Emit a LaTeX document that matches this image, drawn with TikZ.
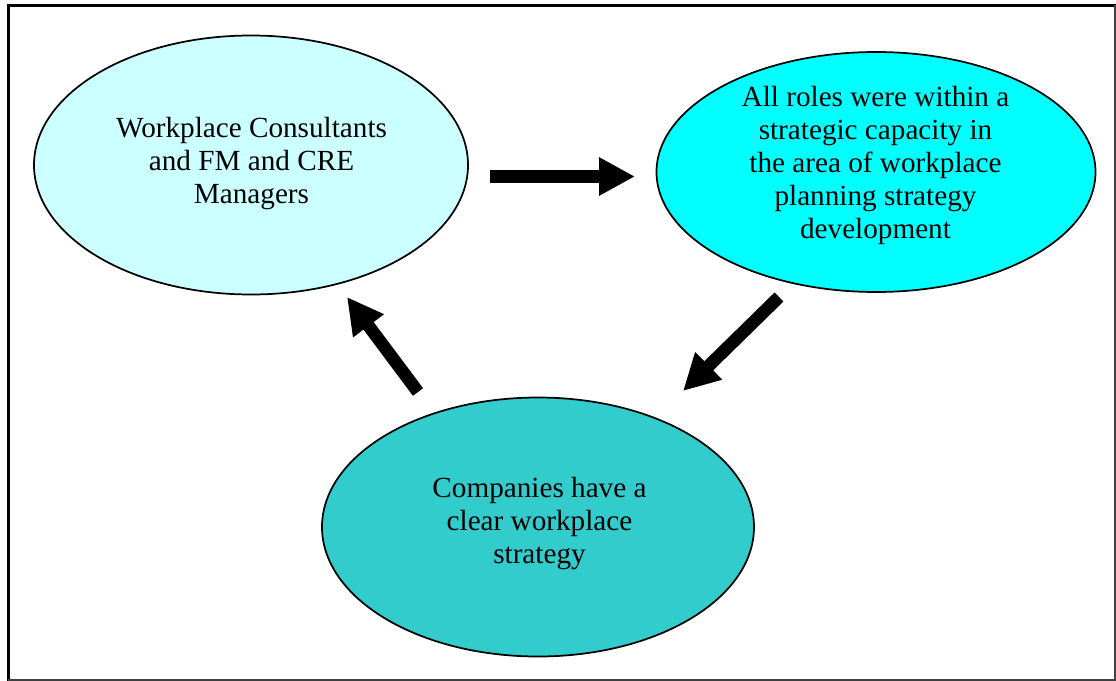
\documentclass[tikz,border=0pt]{standalone}
\usepackage{fontspec}
\setmainfont{Liberation Serif}
\usetikzlibrary{arrows.meta,shapes.geometric}
\definecolor{paleCyan}{HTML}{CCFFFF}
\definecolor{brightCyan}{HTML}{00FFFF}
\definecolor{tealFill}{HTML}{33CCCC}
\tikzset{
  bubble/.style={ellipse, draw=black, line width=1.3pt, inner sep=0pt},
  label text/.style={align=center, font=\fontsize{21.9pt}{24.75pt}\selectfont, inner sep=0pt},
  fatarrow/.style={line width=9.5pt, -{Triangle[length=27pt,width=27pt]}}
}
\begin{document}
\begin{tikzpicture}[x=0.75pt,y=-0.75pt]
\useasboundingbox (0,0) rectangle (1116,681);
% frame
\draw[line width=2.3pt, black] (6.5,5.7) -- (1116,5.7);
\draw[line width=2.5pt, black] (8.3,4.5) -- (8.3,681);
\draw[line width=1.6pt, black!75] (1114.8,5) -- (1114.8,681);
\draw[line width=1.4pt, black!75] (8,680.2) -- (1116,680.2);
% ellipses
\node[bubble, fill=paleCyan, minimum width=434*0.75pt, minimum height=259*0.75pt] (consult) at (251,165) {};
\node[bubble, fill=brightCyan, minimum width=439*0.75pt, minimum height=240*0.75pt] (roles) at (876,172) {};
\node[bubble, fill=tealFill, minimum width=432*0.75pt, minimum height=259*0.75pt] (companies) at (538,527) {};
% texts
\node[label text] (consultText) at (251.5,164) {Workplace Consultants\\and FM and CRE\\Managers};
\node[label text] (rolesText) at (875.5,165) {All roles were within a\\strategic capacity in\\the area of workplace\\planning strategy\\development};
\node[label text] (companiesText) at (539.5,524) {Companies have a\\clear workplace\\strategy};
% arrow ends
\coordinate (a1s) at (490,176.5);
\coordinate (a1e) at (635,176.5);
\coordinate (a2s) at (779,297);
\coordinate (a2e) at (683,391);
\coordinate (a3s) at (418,392);
\coordinate (a3e) at (347,297);
\draw[fatarrow] (a1s) -- (a1e);
\draw[fatarrow] (a2s) -- (a2e);
\draw[fatarrow] (a3s) -- (a3e);
\end{tikzpicture}
\end{document}
